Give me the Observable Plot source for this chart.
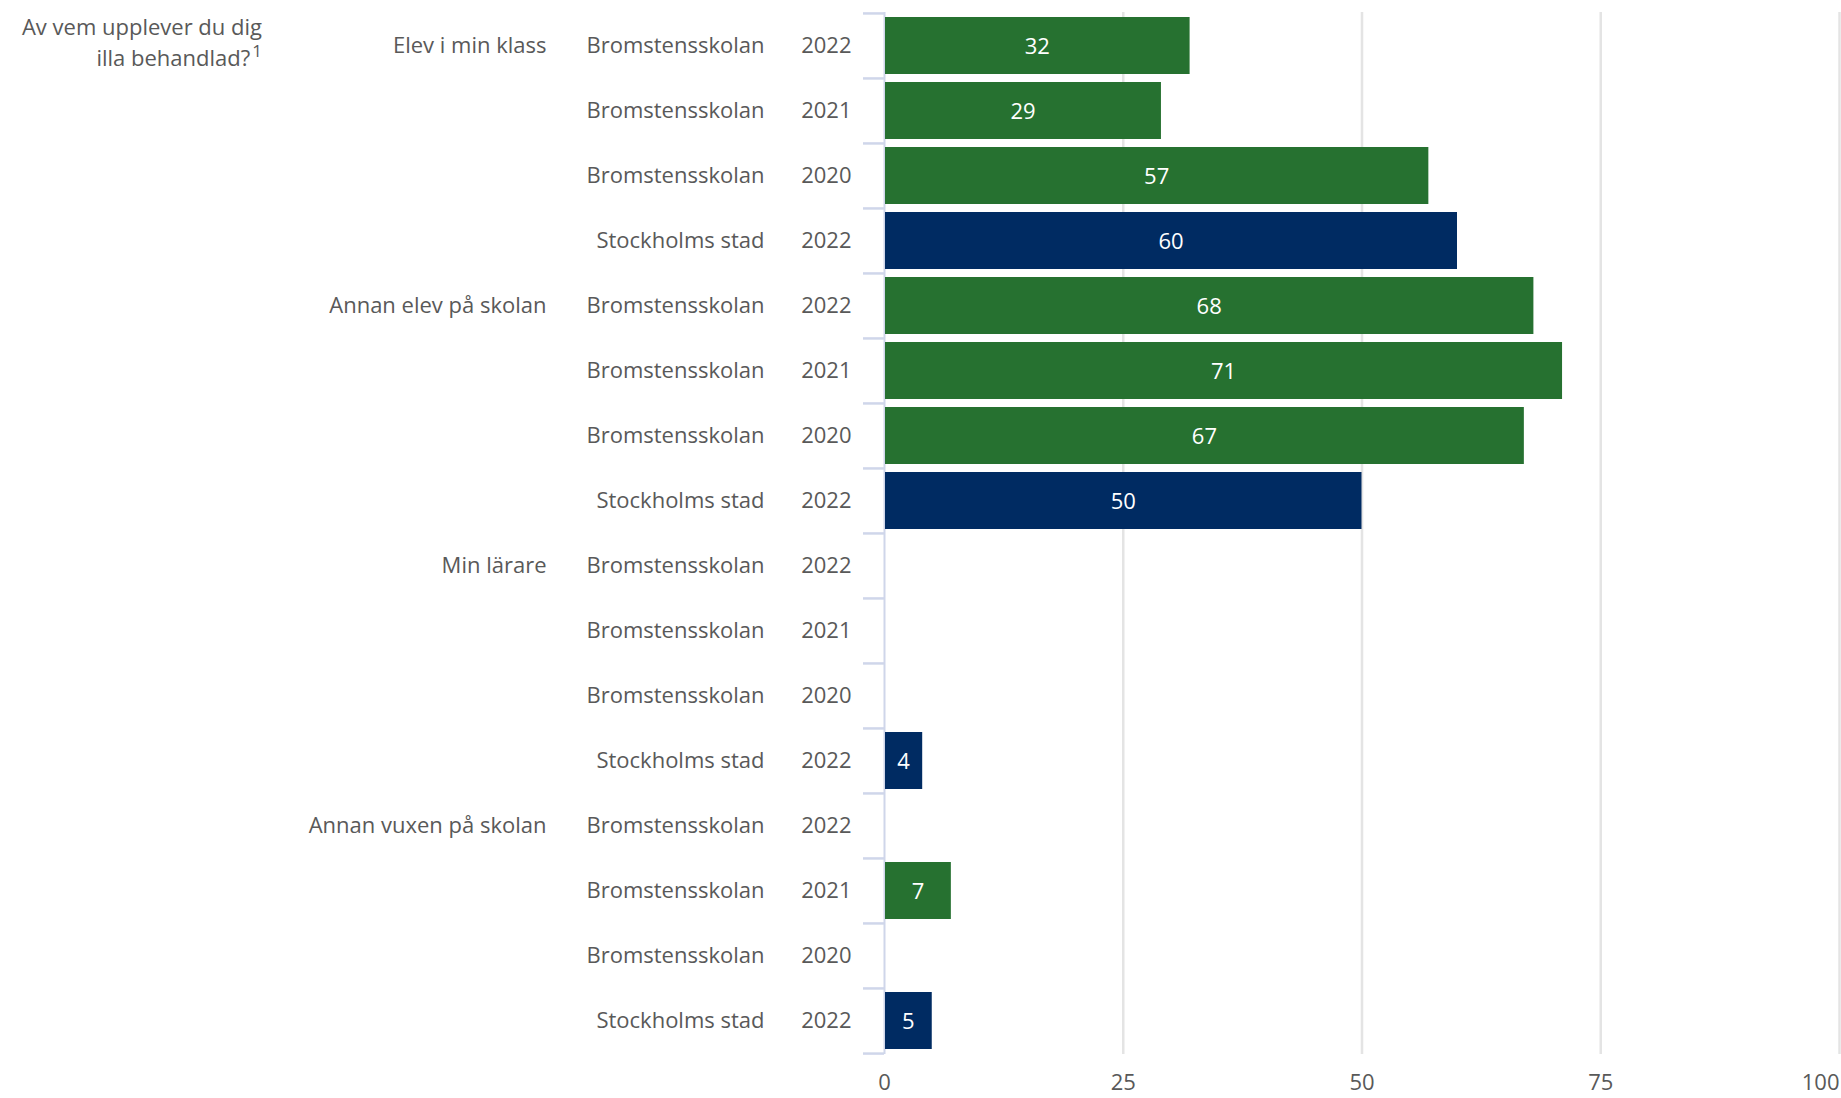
<!DOCTYPE html>
<html><head><meta charset="utf-8">
<script src="https://cdn.jsdelivr.net/npm/d3@7"></script>
<script src="https://cdn.jsdelivr.net/npm/@observablehq/plot@0.6"></script>
<style>
body{margin:0;background:#fff;font-family:"Open Sans",sans-serif;}
#wrap{position:relative;width:1841px;height:1098px;}
#title{position:absolute;left:0;top:11px;width:262px;text-align:right;font-size:22px;line-height:31px;color:#595959;}
#title sup{font-size:17px;vertical-align:0;position:relative;top:-9px;margin-left:2px;}
#chart{position:absolute;left:0;top:0;}
</style></head><body>
<div id="wrap"><div id="chart"></div><div id="title">Av vem upplever du dig<br>illa behandlad?<sup>1</sup></div></div>
<script>
const groups = ["Elev i min klass", "Annan elev på skolan", "Min lärare", "Annan vuxen på skolan"];
const schools = ["Bromstensskolan", "Bromstensskolan", "Bromstensskolan", "Stockholms stad"];
const years = ["2022", "2021", "2020", "2022"];
const valuesElevKlass = [32, 29, 57, 60];
const valuesAnnanElev = [68, 71, 67, 50];
const valuesMinLarare = [null, null, null, 4];
const valuesAnnanVuxen = [null, 7, null, 5];
const xTicks = [0, 25, 50, 75, 100];

const seriesByGroup = [valuesElevKlass, valuesAnnanElev, valuesMinLarare, valuesAnnanVuxen];
const rows = [];
groups.forEach((g, gi) => {
  schools.forEach((s, j) => {
    rows.push({i: gi * 4 + j, group: j === 0 ? g : "", school: s, year: years[j], value: seriesByGroup[gi][j]});
  });
});
const bars = rows.filter(d => d.value != null);
const idx = rows.map(d => d.i);
const GREEN = "#267130", NAVY = "#002b62";
const colorOf = d => d.school === "Stockholms stad" ? NAVY : GREEN;
const font = "'Open Sans', sans-serif";
const step = (1098 - 12 - 44) / rows.length;

const chart = Plot.plot({
  width: 1841,
  height: 1098,
  marginLeft: 884,
  marginRight: 2,
  marginTop: 12,
  marginBottom: 44,
  style: {fontFamily: font, fontSize: "22px", color: "#595959", background: "transparent"},
  x: {domain: [0, 100], label: null},
  y: {domain: idx, paddingInner: 0.13, paddingOuter: 0.065, label: null},
  marks: [
    Plot.ruleX(xTicks.slice(1), {stroke: "#e4e4e4", strokeWidth: 2.5}),
    Plot.ruleX([0], {stroke: "#cfd6ea", strokeWidth: 2}),
    Plot.ruleY(idx, {y: d => d, x1: -2.2, x2: 0, dy: -step / 2, stroke: "#cfd6ea", strokeWidth: 2.5}),
    Plot.ruleY([idx[idx.length - 1]], {y: d => d, x1: -2.2, x2: 0, dy: step / 2, stroke: "#cfd6ea", strokeWidth: 2.5}),
    Plot.barX(bars, {y: "i", x1: 0, x2: "value", fill: colorOf, insetLeft: 1}),
    Plot.text(bars, {y: "i", x: d => d.value / 2, text: d => String(d.value), fill: "white", fontSize: 22, dy: 1}),
    Plot.axisY({tickSize: 0, tickPadding: 33, tickFormat: i => rows[i].year, fill: "#595959", label: null}),
    Plot.axisY({tickSize: 0, tickPadding: 120, tickFormat: i => rows[i].school, fill: "#595959", label: null}),
    Plot.axisY({tickSize: 0, tickPadding: 338, tickFormat: i => rows[i].group, fill: "#595959", label: null}),
    Plot.axisX({ticks: xTicks.slice(0, 4), tickSize: 0, tickPadding: 20, fill: "#595959", label: null}),
    Plot.axisX({ticks: [100], tickSize: 0, tickPadding: 20, textAnchor: "end", fill: "#595959", label: null})
  ]
});
document.getElementById("chart").appendChild(chart);
</script>
</body></html>
